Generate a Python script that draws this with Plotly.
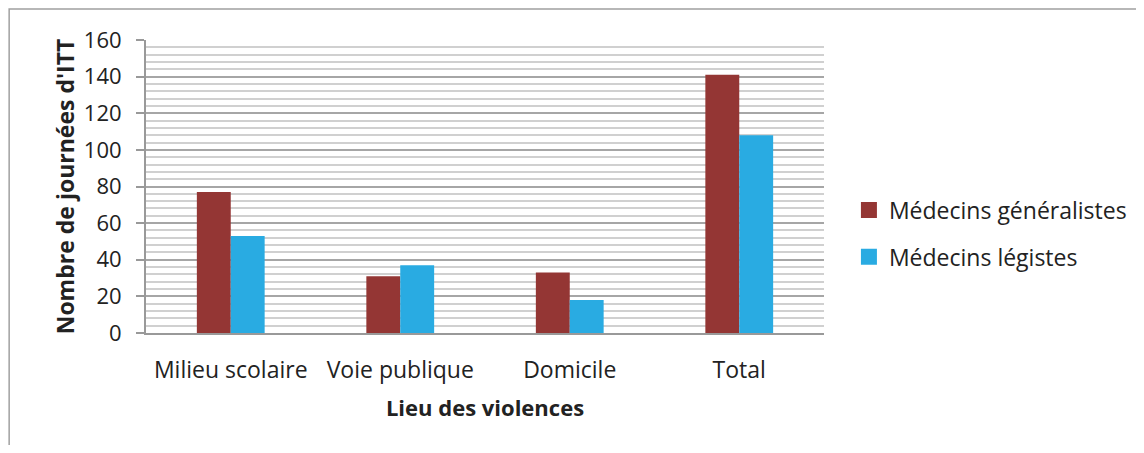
import plotly.graph_objects as go

categories = ["Milieu scolaire", "Voie publique", "Domicile", "Total"]
generalistes = [77, 31, 33, 141]
legistes = [53, 37, 18, 108]
series_names = ["Médecins généralistes", "Médecins légistes"]
y_ticks = [0, 20, 40, 60, 80, 100, 120, 140, 160]

FONT = "Open Sans"
RED = "#943634"
BLUE = "#29ABE2"
TXT = "#222222"

fig = go.Figure()
fig.add_trace(go.Bar(x=categories, y=generalistes, name=series_names[0],
                     marker=dict(color=RED, line=dict(width=0)), showlegend=False))
fig.add_trace(go.Bar(x=categories, y=legistes, name=series_names[1],
                     marker=dict(color=BLUE, line=dict(width=0)), showlegend=False))
# legend entries with larger square swatches
for name, col, grp in [(series_names[0], RED, "a"), (series_names[1], BLUE, "b")]:
    fig.add_trace(go.Scatter(x=[None], y=[None], mode="markers", name=name,
                             legendgroup=grp,
                             marker=dict(symbol="square", size=16, color=col,
                                         line=dict(width=0))))

# figure coordinates (page has an 8px body margin)
W, H = 1136, 437
L, T = 138, 32
PR, PB = 818, 325
R, B = W - PR, H - PB
pw, ph = PR - L, PB - T

def fx(p):
    return (p - L) / pw

def fy(p):
    return (PB - p) / ph

fig.update_layout(
    width=W, height=H,
    margin=dict(l=L, r=R, t=T, b=B, pad=0),
    paper_bgcolor="white", plot_bgcolor="white",
    barmode="group", bargap=0.6, bargroupgap=0,
    font=dict(family=FONT, size=22, color=TXT),
    showlegend=True,
    legend=dict(x=fx(843), y=fy(225.5), xanchor="left", yanchor="middle",
                font=dict(family=FONT, size=23, color=TXT),
                traceorder="grouped", tracegroupgap=14, itemwidth=30,
                itemsizing="trace",
                bgcolor="rgba(0,0,0,0)"),
    xaxis=dict(
        type="category", categoryorder="array", categoryarray=categories,
        showline=True, linecolor="#999999", linewidth=2,
        ticks="", showgrid=False, ticklabelstandoff=15,
        tickfont=dict(family=FONT, size=23, color=TXT),
        title=dict(text="<b>Lieu des violences</b>", standoff=17,
                   font=dict(family=FONT, size=22, color=TXT)),
    ),
    yaxis=dict(
        range=[0, 160], tickvals=y_ticks, ticktext=[str(v) for v in y_ticks],
        showline=True, linecolor="#999999", linewidth=2,
        ticks="outside", ticklen=8, tickcolor="#999999", tickwidth=2,
        ticklabelstandoff=10,
        showgrid=True, gridcolor="#a6a6a6", gridwidth=1.6,
        zeroline=False,
        minor=dict(dtick=4, showgrid=True, gridcolor="#d0d0d0", gridwidth=1.6, ticks=""),
        tickfont=dict(family=FONT, size=22, color=TXT),
        title=dict(text="<b>Nombre de journées d'ITT</b>", standoff=3,
                   font=dict(family=FONT, size=23, color=TXT)),
    ),
    shapes=[dict(type="rect", xref="paper", yref="paper",
                 x0=fx(0.75), x1=fx(W + 20), y0=fy(H + 20), y1=fy(1),
                 line=dict(color="#a0a0a0", width=1.5), fillcolor="rgba(0,0,0,0)",
                 layer="below")],
)

fig.write_html("out.html")
